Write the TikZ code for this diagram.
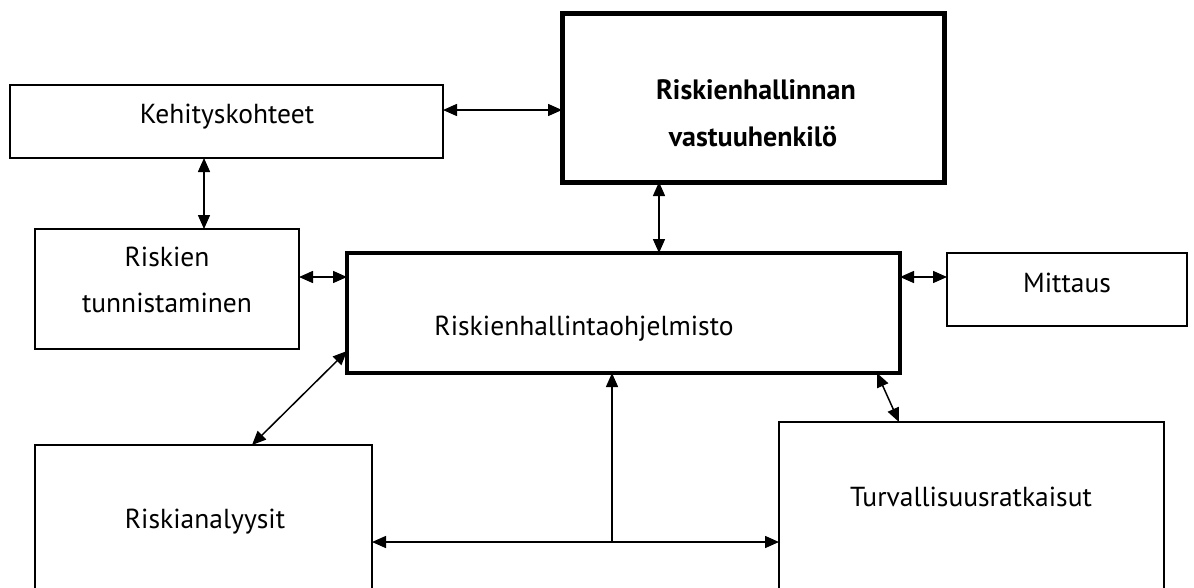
\documentclass[tikz,border=0pt]{standalone}
\usepackage{fontspec}
\setmainfont{PT Sans}
\usetikzlibrary{arrows.meta}
\begin{document}
\begin{tikzpicture}[x=1pt,y=-1pt,
  box/.style={draw, rectangle, inner sep=0pt, outer sep=0pt, line width=1.5pt},
  thickbox/.style={box, line width=4pt},
  heavybox/.style={box, line width=5pt},
  lbl/.style={inner sep=0pt, font=\fontsize{27.5}{33}\selectfont, anchor=center},
  blbl/.style={lbl, font=\fontsize{28}{33}\selectfont\bfseries},
  conn/.style={line width=1.5pt, {Triangle[length=14pt,width=12pt]}-{Triangle[length=14pt,width=12pt]}},
  oneway/.style={line width=1.5pt, -{Triangle[length=14pt,width=12pt]}}
]
\useasboundingbox (0,0) rectangle (1194,587);
% boxes
\node[box, minimum width=433pt, minimum height=73pt] (K) at (226.5,121.5) {};
\node[heavybox, minimum width=382pt, minimum height=169pt] (V) at (753,97.5) {};
\node[box, minimum width=264pt, minimum height=120pt] (T) at (167,289) {};
\node[thickbox, minimum width=553pt, minimum height=120pt] (M) at (623.5,313) {};
\node[box, minimum width=240pt, minimum height=73pt] (Mi) at (1067,289.5) {};
\node[box, minimum width=337pt, minimum height=200pt] (A) at (203.5,545) {};
\node[box, minimum width=385pt, minimum height=220pt] (S) at (971.5,532) {};
% labels
\node[lbl] (tK) at (227,117) {Kehityskohteet};
\node[blbl] (tV1) at (756,90) {Riskienhallinnan};
\node[blbl] (tV2) at (753,137) {vastuuhenkilö};
\node[lbl] (tT1) at (167,257) {Riskien};
\node[lbl] (tT2) at (167,303) {tunnistaminen};
\node[lbl] (tM) at (584,329) {Riskienhallintaohjelmisto};
\node[lbl] (tMi) at (1067,283) {Mittaus};
\node[lbl] (tA) at (205,522) {Riskianalyysit};
\node[lbl] (tS) at (971,497) {Turvallisuusratkaisut};
% connectors
\draw[conn] (K.east |- 0,110) -- (V.west |- 0,110);
\draw[conn] (K.south -| 204,0) -- (T.north -| 204,0);
\draw[conn] (V.south -| 659,0) -- (M.north -| 659,0);
\draw[conn] (T.east |- 0,277) -- (M.west |- 0,277);
\draw[conn] (M.east |- 0,277) -- (Mi.west |- 0,277);
\draw[conn] (M.west |- 0,351) -- (A.north -| 252,0);
\draw[conn] (M.south -| 877,0) -- (S.north -| 899,0);
\draw[conn] (A.east |- 0,542) -- (S.west |- 0,542);
\coordinate (J) at (612,542);
\draw[oneway] (J) -- (M.south -| J);
\end{tikzpicture}
\end{document}
